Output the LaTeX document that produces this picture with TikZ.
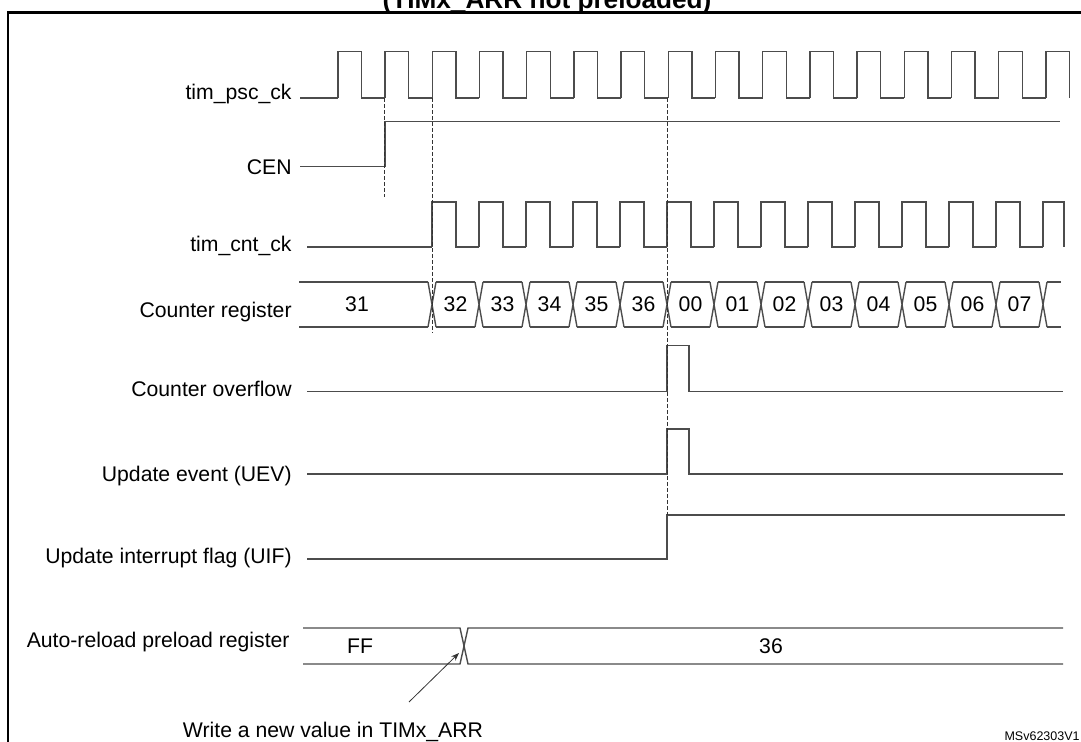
\documentclass[tikz,border=0pt]{standalone}
\usepackage{fontspec}
\setmainfont{Liberation Sans}
\usetikzlibrary{arrows.meta}

\tikzset{
	sig/.style={draw=black!70, line width=0.7pt},
	guide/.style={draw=black!80, line width=0.5pt, dash pattern=on 2pt off 1pt},
	lbl/.style={anchor=base east, inner sep=0pt},
	val/.style={inner sep=0pt},
}

\begin{document}
\begin{tikzpicture}[x=0.5pt, y=-0.5pt, font=\fontsize{10.6}{12.7}\selectfont]
	\useasboundingbox (0,0) rectangle (1081,742);
	\draw[line width=1.25pt] (8,760) -- (8,12.5) -- (1100,12.5);
	\node[font=\fontsize{13.1}{15.7}\selectfont\bfseries, anchor=base, inner sep=0pt] (title) at (547,9) {(TIMx\_ARR not preloaded)};

	\node[lbl] (psc) at (292,100) {tim\_psc\_ck};
	\node[lbl] (cen) at (292,175) {CEN};
	\node[lbl] (cnt) at (292,252) {tim\_cnt\_ck};
	\node[lbl] (creg) at (292,318) {Counter register};
	\node[lbl] (ovf) at (292,397) {Counter overflow};
	\node[lbl] (uev) at (292,482) {Update event (UEV)};
	\node[lbl] (uif) at (292,563) {Update interrupt flag (UIF)};
	\node[lbl] (arr) at (290,647) {Auto-reload preload register};

	\draw[sig] (300,98) -- (337.8,98);
	\foreach \k in {0,...,14}
		\draw[sig] ({337.8+47.2*\k},98) -- ++(0,-46.5) -- ++(23.6,0) -- ++(0,46.5) -- ++(23.6,0);
	\draw[sig] (1045.8,98) -- ++(0,-46.5) -- ++(23.6,0) -- ++(0,46.5);

	\draw[sig] (300,166.7) -- (384.9,166.7) -- (384.9,121.7) -- (1060,121.7);

	\draw[sig] (307,247) -- (432,247);
	\foreach \k in {0,...,12}
		\draw[sig] ({432+47*\k},247) -- ++(0,-45) -- ++(24,0) -- ++(0,45) -- ++(23,0);
	\draw[sig] (1043,247) -- ++(0,-45) -- ++(21,0) -- ++(0,45);

	\draw[sig] (299,282) -- (428,282) (299,327) -- (428,327);
	\foreach \k in {0,...,13}
		\draw[sig] ({428+47*\k},282) -- ++(8,45) ({428+47*\k},327) -- ++(8,-45);
	\foreach \k in {0,...,12}
		\draw[sig] ({436+47*\k},282) -- ++(39,0) ({436+47*\k},327) -- ++(39,0);
	\draw[sig] (1047,282) -- (1061,282) (1047,327) -- (1061,327);
	\node[val] (c31) at (357,304.5) {31};
	\foreach \v [count=\i from 0] in {32,33,34,35,36,00,01,02,03,04,05,06,07}
		\node[val] (c\v) at ({455.5+47*\i},304.5) {\v};

	\draw[sig] (307,391.7) -- (667,391.7) -- (667,345.7) -- (689,345.7) -- (689,391.7) -- (1063,391.7);
	\draw[sig] (307,474) -- (667,474) -- (667,429) -- (689,429) -- (689,474) -- (1063,474);
	\draw[sig] (307,559) -- (667,559) -- (667,515) -- (1065,515);

	\draw[guide] (384.9,98) -- (384.9,197);
	\draw[guide] (432,98) -- (432,333);
	\draw[guide] (667,98) -- (667,515);

	\draw[sig] (303,628) -- (460,628) -- (468,664) -- (1063,664);
	\draw[sig] (303,664) -- (460,664) -- (468,628) -- (1063,628);
	\node[val] (ff) at (360,646) {FF};
	\node[val] (v36) at (771,646) {36};

	\node[anchor=base, inner sep=0pt] (note) at (333,737.5) {Write a new value in TIMx\_ARR};
	\coordinate (wr) at (409,702);
	\coordinate (wx) at (459,653);
	\draw[-{Stealth[length=4pt,width=3pt]}, black!80, line width=0.4pt] (wr) -- (wx);

	\node[anchor=base east, inner sep=0pt, font=\fontsize{6.25}{7.5}\selectfont] (ref) at (1080,740.5) {MSv62303V1};
\end{tikzpicture}
\end{document}
